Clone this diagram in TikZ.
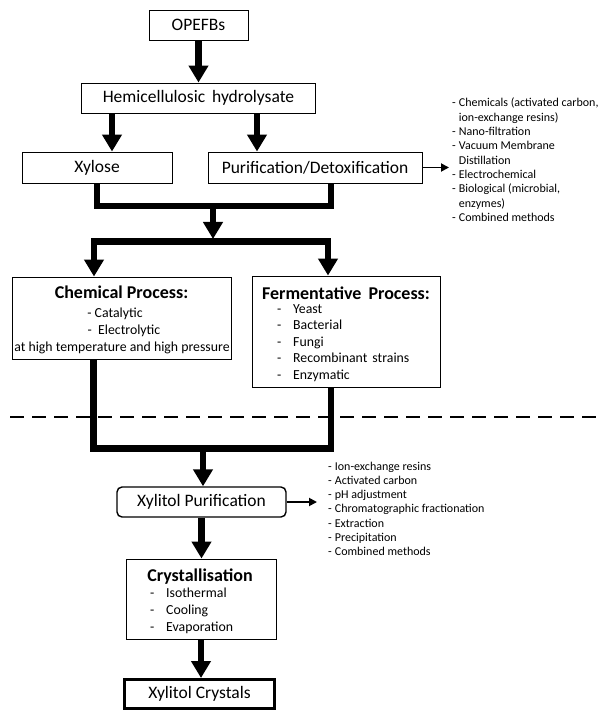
\documentclass[tikz,border=0pt]{standalone}
\usepackage{fontspec}
\setmainfont{Carlito}
\usetikzlibrary{arrows.meta}

\begin{document}
\begin{tikzpicture}[x=1pt,y=-1pt,
  box/.style={draw=black, line width=0.9pt, inner sep=0pt,
    font=\fontsize{17.5}{21}\selectfont},
  headtext/.style={font=\fontsize{18}{21}\selectfont\bfseries, anchor=base, inner sep=0pt},
  itemtext/.style={font=\fontsize{13.8}{16.5}\selectfont, anchor=base, inner sep=0pt},
  itemleft/.style={font=\fontsize{13.8}{16.5}\selectfont, anchor=base west, inner sep=0pt},
  sidelist/.style={font=\fontsize{12}{14.3}\selectfont, anchor=base west, inner sep=0pt},
  fat/.style={line width=6.5pt},
  fathead/.style={fat, -{Triangle[width=19pt,length=17pt]}},
  bothheads/.style={fat, {Triangle[width=19pt,length=17pt]}-{Triangle[width=19pt,length=17pt]}},
  thinhead/.style={line width=1.8pt, -{Triangle[width=8pt,length=8pt]}},
  divider/.style={line width=2pt, dash pattern=on 14pt off 8pt},
]
\useasboundingbox (0,0) rectangle (600,711);

% hyphen followed by the indented item text
\newcommand{\dashitem}[1]{-\hspace{11.8pt}#1}

% ---------- upper part: raw material to xylose ----------
\node[box, minimum width=99pt, minimum height=30pt] (opefb) at (198.5,25) {OPEFBs};
\node[box, minimum width=234pt, minimum height=30pt] (hemi) at (198.5,98)
  {Hemicellulosic\hspace{3pt} hydrolysate};
\node[box, minimum width=150pt, minimum height=31pt] (xylose) at (97,167.5) {Xylose};
\node[box, minimum width=214pt, minimum height=31pt] (purif) at (315,167.5)
  {Purification/Detoxification};

\node[sidelist] (detox) at (452,107) {%
  \begin{tabular}[t]{@{}l@{\hspace{3pt}}l@{}}
  - & Chemicals (activated carbon,\\
    & ion-exchange resins)\\
  - & Nano-filtration\\
  - & Vacuum Membrane\\
    & Distillation\\
  - & Electrochemical\\
  - & Biological (microbial,\\
    & enzymes)\\
  - & Combined methods
  \end{tabular}};

% ---------- conversion processes ----------
\node[box, minimum width=219pt, minimum height=82pt] (chem) at (121.5,318) {};
\node[headtext] (chemT) at (121.5,298) {Chemical Process:};
\node[itemtext] (chemA) at (115,317) {- Catalytic};
\node[itemtext] (chemB) at (124,334) {-\ \ Electrolytic};
\node[itemtext] (chemC) at (122,351) {at high temperature and high pressure};

\node[box, minimum width=188pt, minimum height=111pt] (ferm) at (346,331.5) {};
\node[headtext] (fermT) at (346,299.5) {Fermentative\hspace{3pt} Process:};
\node[itemleft] (fermA) at (277,313) {\dashitem{Yeast}};
\node[itemleft] (fermB) at (277,329.5) {\dashitem{Bacterial}};
\node[itemleft] (fermC) at (277,346) {\dashitem{Fungi}};
\node[itemleft] (fermD) at (277,362.5) {\dashitem{Recombinant\hspace{2pt} strains}};
\node[itemleft] (fermE) at (277,379) {\dashitem{Enzymatic}};

\coordinate (dl) at (10,417);
\coordinate (dr) at (600,417);
\draw[divider] (dl) -- (dr);

% ---------- downstream processing ----------
\node[box, rounded corners=5pt, line width=1.4pt, minimum width=169pt, minimum height=30pt]
  (xpur) at (201.5,502) {Xylitol Purification};
\node[sidelist] (xnotes) at (328,470) {%
  \begin{tabular}[t]{@{}l@{\hspace{3pt}}l@{}}
  - & Ion-exchange resins\\
  - & Activated carbon\\
  - & pH adjustment\\
  - & Chromatographic fractionation\\
  - & Extraction\\
  - & Precipitation\\
  - & Combined methods
  \end{tabular}};

\node[box, minimum width=150pt, minimum height=80pt] (cryst) at (201,599) {};
\node[headtext] (crystT) at (200,581) {Crystallisation};
\node[itemleft] (crystA) at (150,597.5) {\dashitem{Isothermal}};
\node[itemleft] (crystB) at (150,614.5) {\dashitem{Cooling}};
\node[itemleft] (crystC) at (150,631) {\dashitem{Evaporation}};

\node[box, line width=3pt, minimum width=150pt, minimum height=29pt] (xcry) at (199.5,694)
  {Xylitol Crystals};

% ---------- connectors ----------
\draw[fathead] (opefb.south) -- (hemi.north);

\coordinate (hx) at (112,0);
\coordinate (hp) at (257,0);
\draw[fathead] (hemi.south -| hx) -- (xylose.north -| hx);
\draw[fathead] (hemi.south -| hp) -- (purif.north -| hp);

\draw[thinhead] (purif.east) -- ([xshift=-3pt]detox.west |- purif.east);

\coordinate (m1) at (97,206);
\coordinate (m2) at (331,206);
\draw[fat] (xylose.south -| m1) -- (m1) -- (m2) -- (purif.south -| m2);

\coordinate (c1) at (213,206);
\coordinate (c2) at (213,239);
\draw[fathead] (c1) -- (c2);

\coordinate (s1) at (94,241.5);
\coordinate (s2) at (328,241.5);
\draw[bothheads] (chem.north -| s1) -- (s1) -- (s2) -- (ferm.north -| s2);

\coordinate (b1) at (93.5,448.5);
\coordinate (b2) at (331,448.5);
\draw[fat] (chem.south -| b1) -- (b1) -- (b2) -- (ferm.south -| b2);
\coordinate (b3) at (203,448.5);
\draw[fathead] (b3) -- (xpur.north -| b3);

\draw[thinhead] (xpur.east) -- ([xshift=-11pt]xnotes.west |- xpur.east);

\draw[fathead] (xpur.south) -- (xpur.south |- cryst.north);
\draw[fathead] (cryst.south) -- (cryst.south |- xcry.north);
\end{tikzpicture}
\end{document}
